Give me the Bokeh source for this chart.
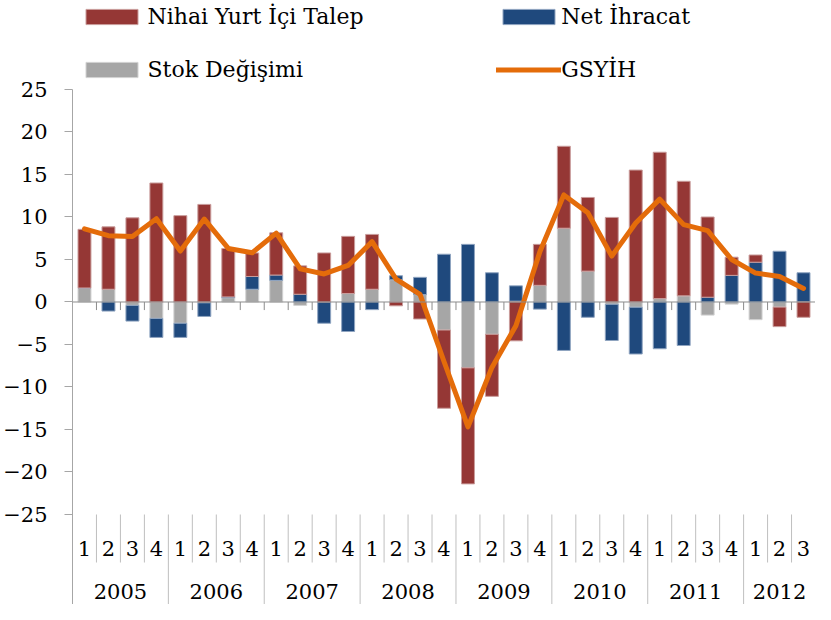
import numpy as np
from bokeh.plotting import figure
from bokeh.models import (FactorRange, Range1d, FixedTicker, Span, Legend, LegendItem,
                          ColumnDataSource)
from bokeh.core.properties import value
from bokeh.embed import file_html
from bokeh.resources import INLINE

# ---------------- data ----------------
years = ["2005", "2006", "2007", "2008", "2009", "2010", "2011", "2012"]
quarter_labels = ["1", "2", "3", "4"]
quarters_per_year = [4, 4, 4, 4, 4, 4, 4, 3]

nihai_yurt_ici_talep = [6.9, 7.34, 9.9, 14.0, 10.16, 11.48, 5.7, 2.77,
                        4.97, 3.34, 5.77, 6.72, 6.45, -0.45, -2.0, -9.2,
                        -13.65, -7.3, -4.57, 4.82, 9.64, 8.67, 9.95, 15.52,
                        17.22, 13.48, 9.44, 2.14, 0.85, -2.3, -1.8]
net_ihracat = [0.0, -1.07, -1.85, -2.24, -1.67, -1.6, 0.1, 1.5,
               0.63, 0.91, -2.5, -3.47, -0.9, 0.47, 2.03, 5.62,
               6.78, 3.44, 1.8, -0.84, -5.7, -1.8, -4.26, -5.5,
               -5.5, -5.12, 0.56, 3.13, 4.68, 5.97, 3.44]
stok_degisimi = [1.65, 1.5, -0.4, -1.93, -2.5, -0.1, 0.5, 1.5,
                 2.54, -0.4, 0.0, 1.0, 1.5, 2.62, 0.87, -3.3,
                 -7.75, -3.8, 0.1, 1.96, 8.68, 3.63, -0.27, -0.62,
                 0.4, 0.72, -1.54, -0.25, -2.08, -0.6, 0.0]
gsyih = [8.6, 7.8, 7.7, 9.8, 6.0, 9.75, 6.3, 5.8,
         8.1, 3.9, 3.3, 4.3, 7.1, 2.7, 0.9, -7.0,
         -14.7, -7.7, -2.8, 5.9, 12.6, 10.5, 5.4, 9.3,
         12.1, 9.1, 8.4, 5.0, 3.4, 3.0, 1.6]

y_ticks = [-25, -20, -15, -10, -5, 0, 5, 10, 15, 20, 25]

# ---------------- styling ----------------
RED, BLUE, GRAY, ORANGE = "#953735", "#1F497D", "#A6A6A6", "#E46C0A"
FONT = "DejaVu Serif"
AXIS_GRAY = "#A6A6A6"
SEP_GRAY = "#BFBFBF"
Y_BOTTOM, Y_TOP = -35.59, 35.47

factors = [(y, quarter_labels[q]) for y, nq in zip(years, quarters_per_year) for q in range(nq)]
n = len(factors)

p = figure(width=815, height=604, output_backend="svg", toolbar_location=None,
           x_range=FactorRange(factors=factors, factor_padding=0, group_padding=0,
                               subgroup_padding=0, range_padding=0),
           y_range=Range1d(Y_BOTTOM, Y_TOP),
           x_axis_location=None, min_border_left=72, min_border_right=0,
           min_border_top=0, min_border_bottom=0)
p.outline_line_color = None
p.grid.visible = False
p.background_fill_color = "white"
p.border_fill_color = "white"

yax = p.yaxis[0]
yax.ticker = FixedTicker(ticks=y_ticks)
yax.bounds = (Y_BOTTOM, max(y_ticks))
yax.minor_tick_line_color = None
yax.axis_line_color = AXIS_GRAY
yax.major_tick_line_color = AXIS_GRAY
yax.major_tick_in = 0
yax.major_tick_out = 8
yax.major_label_standoff = 17
yax.major_label_text_font = FONT
yax.major_label_text_font_size = "21px"
yax.major_label_text_color = "black"

# zero line with category ticks
p.add_layout(Span(location=0, dimension="width", line_color="#8C8C8C", line_width=1))
bounds = list(range(1, n + 1))
p.segment(x0=bounds, x1=bounds, y0=0, y1=-0.95, line_color="#8C8C8C", line_width=1)

# stacked bars (positive and negative stacks)
series = [("Stok Değişimi", stok_degisimi, GRAY, "#D2D2D2"),
          ("Net İhracat", net_ihracat, BLUE, "#8FA4C0"),
          ("Nihai Yurt İçi Talep", nihai_yurt_ici_talep, RED, "#C99C9B")]
pos = np.zeros(n)
neg = np.zeros(n)
renderers = {}
for name, vals, col, edge in series:
    v = np.array(vals, dtype=float)
    bottom = np.where(v >= 0, pos, neg)
    top = bottom + v
    pos = np.where(v >= 0, top, pos)
    neg = np.where(v < 0, top, neg)
    src = ColumnDataSource(dict(x=factors, bottom=bottom, top=top))
    renderers[name] = p.vbar(x="x", bottom="bottom", top="top", width=0.54, source=src,
                             fill_color=col, line_color=edge, line_width=1)

renderers["GSYİH"] = p.line(x=factors, y=gsyih, line_color=ORANGE, line_width=5,
                            line_join="round", line_cap="round")

# two-level category labels at the bottom, inside the extended frame
p.text(x=factors, y=-29.0, text=[q for _, q in factors], text_font=value(FONT),
       text_font_size=value("21px"), text_align="center", text_baseline="middle",
       text_color="black")
p.text(x=years, y=-34.06, text=years, text_font=value(FONT),
       text_font_size=value("21px"), text_align="center", text_baseline="middle",
       text_color="black")

year_ends = list(np.cumsum(quarters_per_year)[:-1])
q_bounds = [b for b in range(1, n) if b not in year_ends]
p.segment(x0=q_bounds, x1=q_bounds, y0=-25, y1=-30.65, line_color=SEP_GRAY, line_width=1)
p.segment(x0=year_ends, x1=year_ends, y0=-25, y1=Y_BOTTOM - 1, line_color=SEP_GRAY, line_width=1)

# legends: two columns at the top
def make_legend(names, loc, standoff):
    return Legend(items=[LegendItem(label=nm, renderers=[renderers[nm]]) for nm in names],
                  location=loc, orientation="vertical",
                  glyph_width=65, glyph_height=19, label_height=30,
                  label_standoff=standoff, spacing=23, padding=0, margin=0,
                  border_line_color=None, background_fill_alpha=0,
                  label_text_font=FONT, label_text_font_size="22px",
                  label_text_color="black")

p.add_layout(make_legend(["Nihai Yurt İçi Talep", "Stok Değişimi"], (6.5, 519.5), 4))
p.add_layout(make_legend(["Net İhracat", "GSYİH"], (424.2, 519.5), 0))

open("out.html", "w").write(file_html(p, INLINE))
